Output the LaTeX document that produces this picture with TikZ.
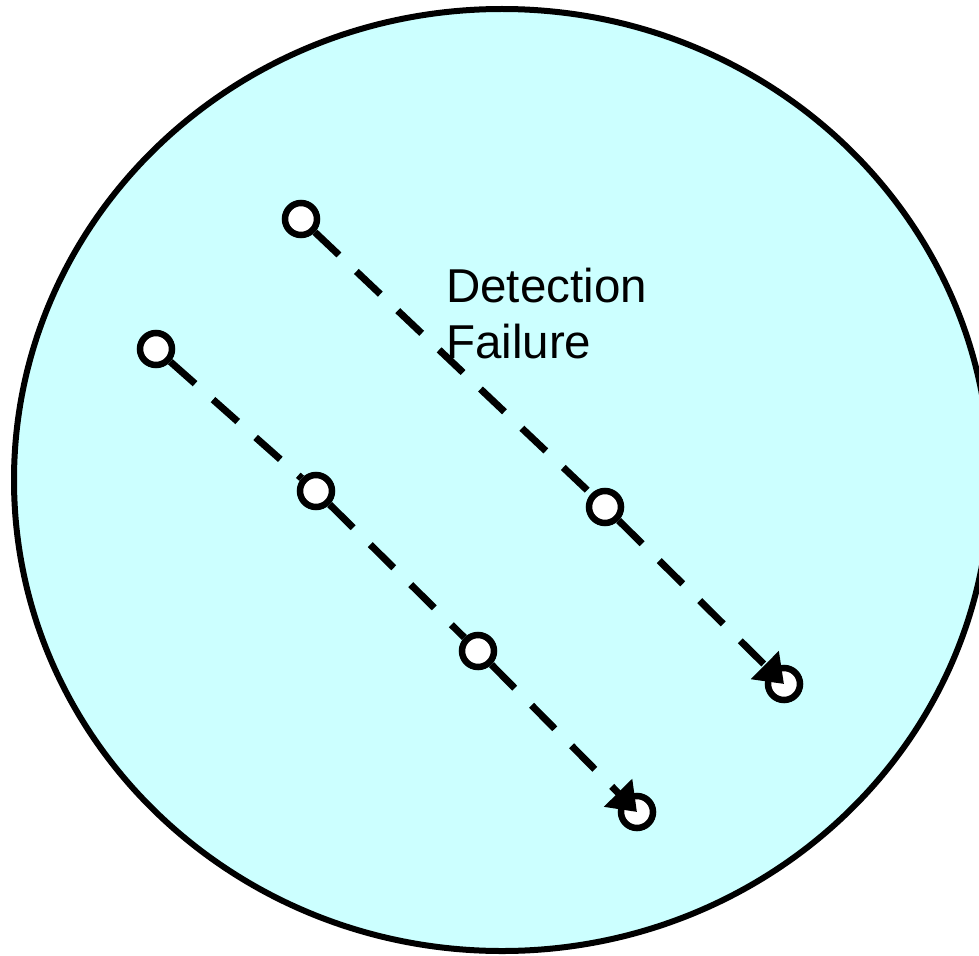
\documentclass[tikz,border=0pt]{standalone}
\usepackage{fontspec}
\setmainfont{Liberation Sans}
\usetikzlibrary{arrows.meta}
\definecolor{bgcyan}{RGB}{204,255,255}
\tikzset{
  dot/.style={circle, draw=black, fill=white, line width=6.5pt, minimum size=32pt, inner sep=0pt},
  track/.style={line width=7pt, dash pattern=on 33pt off 24pt},
  trackend/.style={track, -{Triangle[length=27pt, width=38pt]}},
}
\begin{document}
\begin{tikzpicture}[x=1pt, y=-1pt]
\useasboundingbox (0,0) rectangle (979,955);
\fill[bgcyan, draw=black, line width=6pt] (502,480) ellipse [x radius=488, y radius=471];
% upper track
\node[dot] (a1) at (301,219) {};
\node[dot] (a2) at (605,507) {};
\node[dot] (a3) at (784,684) {};
% lower track
\node[dot] (b1) at (156,349) {};
\node[dot] (b2) at (316,491) {};
\node[dot] (b3) at (478,651) {};
\node[dot] (b4) at (637,812) {};
\draw[track] (a1) -- (a2);
\draw[trackend] (a2) -- (a3.center);
\draw[track] (b1) -- (b2);
\draw[track] (b2) -- (b3);
\draw[trackend] (b3) -- (b4.center);
\node[anchor=north west, inner sep=0pt, align=left, font=\fontsize{47.5}{56}\selectfont] (lbl) at (446,268) {Detection\\Failure};
\end{tikzpicture}
\end{document}
